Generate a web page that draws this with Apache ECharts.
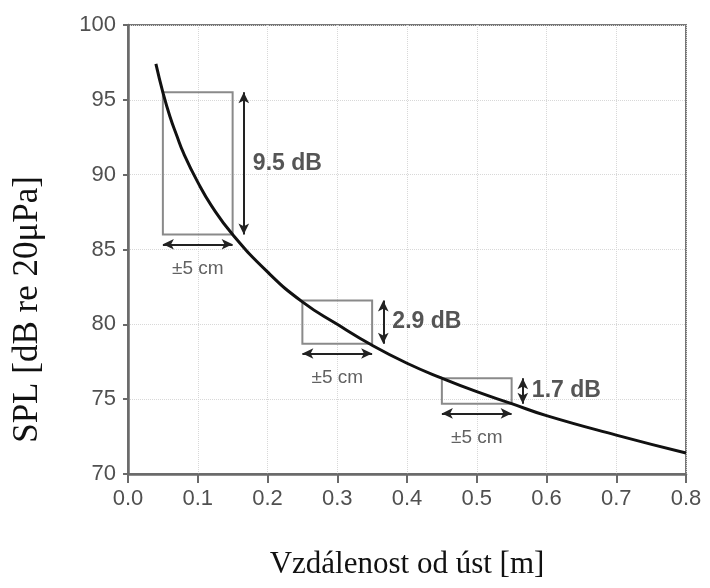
<!DOCTYPE html>
<html>
<head>
    <meta charset="utf-8">
    <script src="https://cdn.jsdelivr.net/npm/echarts@6/dist/echarts.min.js"></script>
</head>
<body style="margin: 0; background: #fff">
    <div id="container" style="width: 710px; height: 588px"></div>
    <script type="text/javascript">
        // values
        var distances = [0.04, 0.05, 0.06, 0.07, 0.08, 0.10, 0.12, 0.15, 0.20, 0.25, 0.30, 0.35, 0.40, 0.45, 0.50, 0.55, 0.60, 0.70, 0.80];
        var spl = [97.4, 95.5, 93.9, 92.6, 91.4, 89.5, 87.9, 86.0, 83.5, 81.5, 80.0, 78.6, 77.4, 76.4, 75.5, 74.7, 73.9, 72.6, 71.4];

        // boxes: [x0, x1, yTop, yBottom]
        var boxes = [
            [0.05, 0.15, 95.5, 86.0],
            [0.25, 0.35, 81.6, 78.7],
            [0.45, 0.55, 76.4, 74.7]
        ];
        var dbLabels = ['9.5 dB', '2.9 dB', '1.7 dB'];
        var cmLabel = '±5 cm';
        var xTicks = ['0.0', '0.1', '0.2', '0.3', '0.4', '0.5', '0.6', '0.7', '0.8'];

        var dom = document.getElementById('container');
        var myChart = echarts.init(dom);

        var curveData = distances.map(function (d, i) { return [d, spl[i]]; });

        var areaData = [];
        var lineData = [];
        var textData = [];
        boxes.forEach(function (b, i) {
            areaData.push([{ coord: [b[0], b[2]] }, { coord: [b[1], b[3]] }]);
            var vx = b[1] + 0.016;
            lineData.push([{ coord: [vx, b[2]] }, { coord: [vx, b[3]] }]);
            var hy = b[3] - 0.65;
            lineData.push([{ coord: [b[0], hy] }, { coord: [b[1], hy] }]);
            // dB text
            textData.push({
                value: [vx + 0.013, (b[2] + b[3]) / 2],
                name: dbLabels[i],
                label: { align: 'left', fontWeight: 'bold', fontSize: 23, color: '#2a2a2a' }
            });
            // ±5 cm text
            textData.push({
                value: [(b[0] + b[1]) / 2, b[3] - 2.3],
                name: cmLabel,
                label: { align: 'center', fontWeight: 'normal', fontSize: 19, color: '#3a3a3a' }
            });
        });

        option = {
            animation: false,
            grid: {
                left: 128,
                right: 24,
                top: 25,
                bottom: 114,
                show: true,
                borderColor: '#777',
                borderWidth: 2
            },
            xAxis: {
                type: 'value',
                min: 0,
                max: 0.8,
                interval: 0.1,
                name: 'Vzdálenost od úst [m]',
                nameLocation: 'middle',
                nameGap: 75,
                nameTextStyle: { fontFamily: 'Liberation Serif', fontSize: 31, color: '#111' },
                axisLine: { show: true, lineStyle: { color: '#6a6a6a', width: 2.5 } },
                axisTick: { show: true, length: 9, lineStyle: { color: '#6a6a6a', width: 2 } },
                axisLabel: {
                    fontFamily: 'Liberation Sans', fontSize: 22, color: '#505050', margin: 14,
                    formatter: function (v) { return xTicks[Math.round(v * 10)]; }
                },
                splitLine: { show: true, lineStyle: { type: 'dotted', color: '#d8d8d8', width: 1 } }
            },
            yAxis: {
                type: 'value',
                min: 70,
                max: 100,
                interval: 5,
                name: 'SPL [dB re 20μPa]',
                nameLocation: 'middle',
                nameGap: 83,
                nameTextStyle: {
                    fontFamily: 'Liberation Serif', fontSize: 35, color: '#111',
                    padding: [0, 120, 0, 0]
                },
                axisLine: { show: true, lineStyle: { color: '#6a6a6a', width: 2.5 } },
                axisTick: { show: true, length: 5, lineStyle: { color: '#6a6a6a', width: 2 } },
                axisLabel: { fontFamily: 'Liberation Sans', fontSize: 22, color: '#505050', margin: 12 },
                splitLine: { show: true, lineStyle: { type: 'dotted', color: '#d8d8d8', width: 1 } }
            },
            series: [{
                type: 'line',
                data: curveData,
                smooth: true,
                showSymbol: false,
                lineStyle: { color: '#111', width: 3 },
                z: 5,
                markArea: {
                    silent: true,
                    itemStyle: { color: 'rgba(0,0,0,0)', borderColor: '#8a8a8a', borderWidth: 2 },
                    data: areaData
                },
                markLine: {
                    silent: true,
                    symbol: ['arrow', 'arrow'],
                    symbolSize: [8, 11],
                    label: { show: false },
                    lineStyle: { color: '#222', width: 2, type: 'solid' },
                    data: lineData
                }
            }, {
                type: 'scatter',
                symbolSize: 0,
                silent: true,
                data: textData,
                label: {
                    show: true,
                    position: 'inside',
                    fontFamily: 'Liberation Sans',
                    formatter: function (p) { return p.name; }
                }
            }]
        };

        if (option && typeof option === 'object') {
            myChart.setOption(option, true);
        }
    </script>
</body>
</html>
